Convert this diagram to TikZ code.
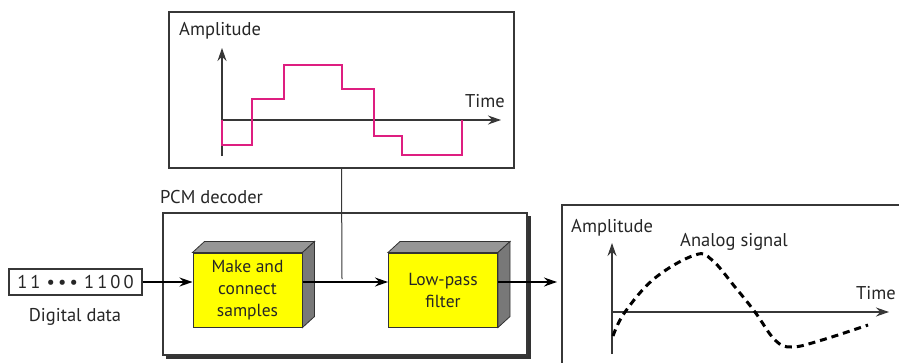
\documentclass[tikz,border=0pt]{standalone}
\usepackage{fontspec}
\setmainfont{PT Sans}
\usetikzlibrary{arrows.meta,calc}
\definecolor{pcmmag}{RGB}{222,30,128}
\definecolor{pcmyel}{RGB}{255,255,0}
\definecolor{lined}{RGB}{55,55,55}
\definecolor{sidegray}{RGB}{120,120,120}
\definecolor{topgray}{RGB}{150,150,150}
\tikzset{
  panel/.style={draw=lined, line width=1.3pt, fill=white, inner sep=0pt},
  lbl/.style={font=\fontsize{18.5}{20}\selectfont, text=black!85, inner sep=0pt},
  axis/.style={draw=lined, line width=1.1pt},
  axarr/.style={axis, -{Stealth[length=13pt,width=9pt]}},
  arr/.style={draw=black, line width=1.3pt, -{Stealth[length=13pt,width=9pt]}},
  block/.style={draw=black!80, line width=1pt, fill=pcmyel, inner sep=0pt,
    minimum width=109pt, minimum height=74pt, align=center,
    font=\fontsize{17.5}{22}\selectfont, text=black!85},
  sig/.style={draw=black, line width=3pt, dash pattern=on 7pt off 5pt}
}
\newcommand{\blockside}[1]{%
  \fill[topgray, draw=black!80, line width=0.8pt] (#1.north west) -- ++(12,-11) -- ($(#1.north east)+(12,-11)$) -- (#1.north east) -- cycle;
  \fill[sidegray, draw=black!80, line width=0.8pt] (#1.north east) -- ++(12,-11) -- ($(#1.south east)+(12,-11)$) -- (#1.south east) -- cycle;
}
\begin{document}
\begin{tikzpicture}[x=1pt,y=-1pt]
\useasboundingbox (0,0) rectangle (899,362);
% top waveform panel
\node[panel, minimum width=345pt, minimum height=156pt] (wave) at (341.5,90) {};
\node[lbl, anchor=west] (amp1) at (179,31) {Amplitude};
\node[lbl, anchor=west] (time1) at (465,101) {Time};
\draw[axarr] (222,156) -- (222,48);
\draw[axarr] (222,120) -- (501,120);
\draw[pcmmag, line width=2.2pt, line join=miter] (222,120) -- (222,145) -- (252,145) -- (252,99) -- (284,99) -- (284,65) -- (342,65) -- (342,89) -- (374,89) -- (374,136) -- (402,136) -- (402,155) -- (462,155) -- (462,120);
% PCM decoder
\fill[black!80] (166,216) rectangle (531,359);
\node[panel, draw=lined, minimum width=364pt, minimum height=142pt] (pcm) at (345,284) {};
\node[lbl, anchor=west] (pcmlbl) at (160,197) {PCM decoder};
% blocks
\node[block] (mk) at (247.5,290) {Make and\\connect\\samples};
\blockside{mk}
\node[block] (lp) at (443,290) {Low-pass\\filter};
\blockside{lp}
% digital data
\node[panel, line width=1.1pt, minimum width=133pt, minimum height=26pt] (data) at (75.5,282) {};
\node[lbl, font=\fontsize{18.5}{20}\selectfont] (bits) at (data.center) {1\,1\,\,\textbullet\,\textbullet\,\textbullet\,\,1\,1\,0\,0};
\node[lbl] (dlbl) at (75,317) {Digital data};
% connectors
\coordinate (tap) at (342,279);
\coordinate (out) at (557,282);
\draw[arr] (data.east) -- (data.east -| mk.west);
\draw[arr] (mk.east |- data.east) -- (lp.west |- data.east);
\draw[arr] (lp.east |- data.east) -- (out);
\draw[draw=lined, line width=1pt] (wave.south) -- (tap);
% analog panel
\draw[draw=lined, line width=1.3pt] (905,205) -- (562,205) -- (562,370);
\node[lbl, anchor=west] (amp2) at (571,228) {Amplitude};
\node[lbl, anchor=west] (alab) at (680,242) {Analog signal};
\node[lbl, anchor=west] (time2) at (856,293) {Time};
\draw[axarr] (612,354) -- (612,243);
\draw[axarr] (612,312) -- (889,312);
\draw[sig] plot[smooth, tension=0.65] coordinates {(613,336) (625,312) (655,278) (695,255) (712,260) (735,287) (755,312) (775,340) (792,347) (822,340) (868,325)};
\end{tikzpicture}
\end{document}
